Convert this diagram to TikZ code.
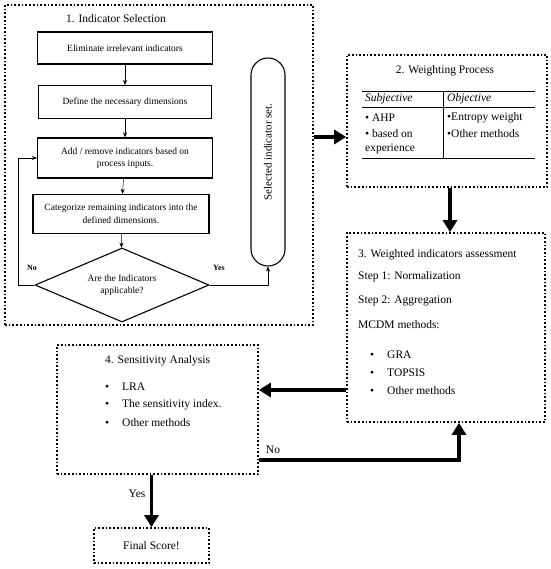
\documentclass[tikz,border=0pt]{standalone}
\usepackage{fontspec}
\setmainfont{Liberation Serif}
\usetikzlibrary{shapes.geometric,arrows.meta}
\begin{document}
\begin{tikzpicture}[x=1pt,y=-1pt,>=stealth,font=\fontsize{11.5}{13}\selectfont,
  group/.style={draw, dotted, line width=1.7pt, inner sep=0pt},
  stepbox/.style={draw, line width=1.1pt, inner sep=0pt, align=center, font=\fontsize{9.5}{12.5}\selectfont},
  flow/.style={->, line width=0.5pt, >={Stealth[length=5pt,width=4pt]}},
  bigflow/.style={->, line width=3.5pt, >={Triangle[length=12pt,width=14pt]}},
  item/.style={anchor=west, inner sep=0pt}]
\useasboundingbox (0,0) rectangle (550,569);
\node[group, minimum width=308pt, minimum height=320pt] (sel box) at (159,165) {};
\node (sel title) at (116,19) {1. Indicator Selection};
\node[stepbox, minimum width=175pt, minimum height=32pt] (elim) at (125,48) {Eliminate irrelevant indicators};
\node[stepbox, minimum width=173pt, minimum height=33pt] (dim) at (125,102) {Define the necessary dimensions};
\node[stepbox, minimum width=175pt, minimum height=40pt] (add) at (125,158) {Add / remove indicators based on\\process inputs.};
\node[stepbox, minimum width=176pt, minimum height=39pt] (cat) at (121,214) {Categorize remaining indicators into the\\defined dimensions.};
\node[stepbox, diamond, aspect=2.4, minimum width=174pt, minimum height=74pt] (app) at (122,285) {Are the Indicators\\applicable?};
\node[draw, line width=1.1pt, rounded corners=17pt, minimum width=34pt, minimum height=208pt, inner sep=0pt] (set) at (268,162) {};
\node[rotate=90, font=\fontsize{11}{13}\selectfont] (set text) at (268,152) {Selected indicator set.};
\draw[flow] (elim) -- (dim);
\draw[flow] (dim) -- (add);
\draw[flow] (add) -- (cat);
\draw[flow] (cat) -- (app);
\draw[flow] (app.west) -- ++(-16,0) |- (add.west);
\draw[flow] (app.east) -| (set.south);
\node[font=\bfseries\fontsize{8}{10}\selectfont] (no1) at (32,268) {No};
\node[font=\bfseries\fontsize{8}{10}\selectfont] (yes1) at (219,268) {Yes};
\node[group, minimum width=200pt, minimum height=132pt] (weight) at (447,121) {};
\node (weight title) at (445,71) {2. Weighting Process};
\draw[line width=0.6pt] (362,91) -- (535,91) (362,107) -- (535,107) (362,158) -- (535,158) (443,91) -- (443,158);
\node[item] (subj) at (365,99) {\itshape Subjective};
\node[item] (obj) at (447,99) {\itshape Objective};
\node[item] (ahp) at (365,118) {\textbullet\ AHP};
\node[item] (exp) at (365,134) {\textbullet\ based on};
\node[item] (exp2) at (365,149) {experience};
\node[item] (ent) at (447,118) {\textbullet Entropy weight};
\node[item] (oth) at (447,134) {\textbullet Other methods};
\node[group, minimum width=198pt, minimum height=189pt] (assess) at (446,327.5) {};
\node[item] (as title) at (358,255) {3. Weighted indicators assessment};
\node[item] (norm) at (358,277) {Step 1: Normalization};
\node[item] (aggr) at (358,301) {Step 2: Aggregation};
\node[item] (mcdm) at (358,325) {MCDM methods:};
\node[item] (gra) at (370,355) {\makebox[17pt][l]{\textbullet}GRA};
\node[item] (top) at (370,373) {\makebox[17pt][l]{\textbullet}TOPSIS};
\node[item] (oth3) at (370,391) {\makebox[17pt][l]{\textbullet}Other methods};
\node[group, minimum width=201pt, minimum height=129pt] (sens) at (157.5,409.5) {};
\node[item] (sens title) at (105,361) {4. Sensitivity Analysis};
\node[item] (lra) at (105,387) {\makebox[17pt][l]{\textbullet}LRA};
\node[item] (idx) at (105,405) {\makebox[17pt][l]{\textbullet}The sensitivity index.};
\node[item] (oth4) at (105,423) {\makebox[17pt][l]{\textbullet}Other methods};
\node[group, minimum width=115pt, minimum height=35pt] (final) at (151.5,545.5) {Final Score!};
\draw[bigflow] (sel box.east |- 0,137) -- (weight.west |- 0,137);
\draw[bigflow] (weight.south -| 450,0) -- (assess.north -| 450,0);
\draw[bigflow] (assess.west |- 0,390) -- (sens.east |- 0,390);
\draw[bigflow] (sens.east |- 0,460) -| (assess.south -| 459,0);
\draw[bigflow] (final.north |- sens.south) -- (final.north);
\node (no2) at (273,450) {No};
\node (yes2) at (137,494) {Yes};
\end{tikzpicture}
\end{document}
